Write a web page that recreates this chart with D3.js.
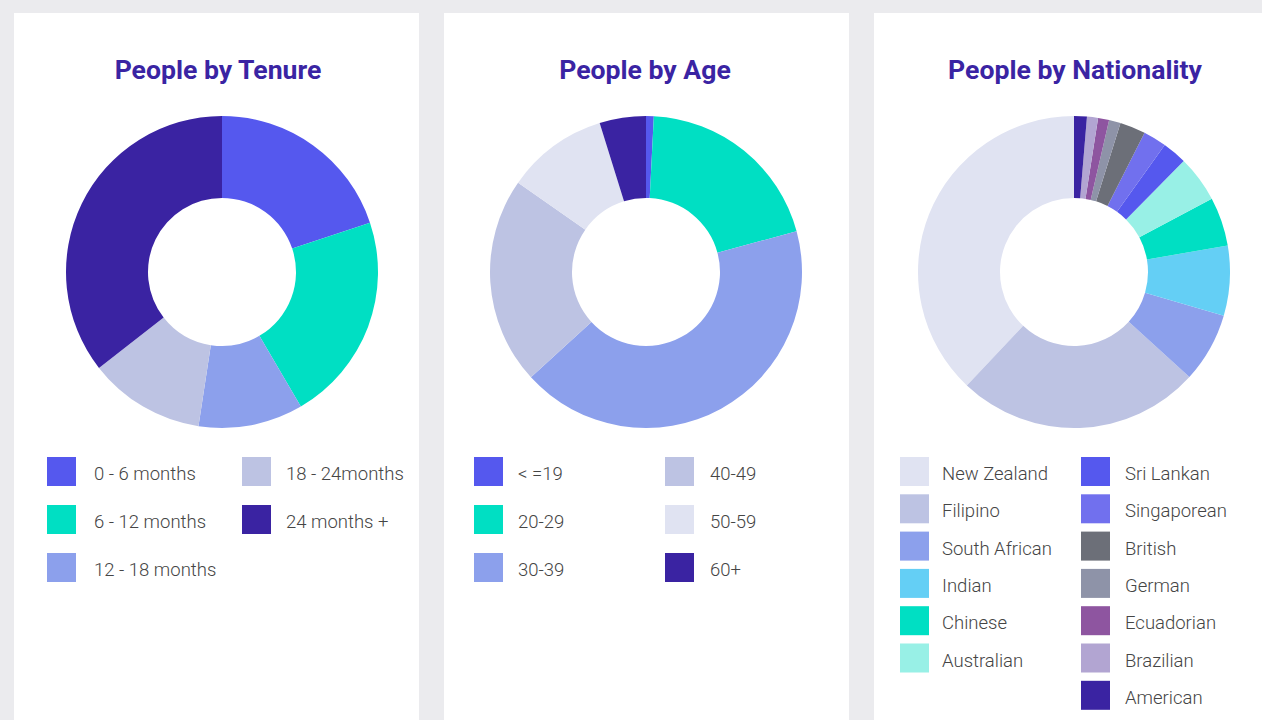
<html>
  <head>
    <title>People dashboard</title>
    <script src="https://d3js.org/d3.v7.min.js"></script>
    <style>
      body {
        margin: 0;
        background: #ebebee;
        font-family: Roboto, "Open Sans", sans-serif;
      }
      text.title {
        font-weight: 700;
        font-size: 26.6px;
        fill: #3a24a3;
        text-anchor: middle;
      }
      text.legend {
        font-weight: 300;
        font-size: 18.5px;
        fill: #454545;
      }
    </style>
  </head>
  <body>
    <svg id="board" width="1262" height="720"></svg>

    <script>
      // Tenure
      const tenureLabels = ["0 - 6 months", "6 - 12 months", "12 - 18 months", "18 - 24months", "24 months +"];
      const tenureValues = [16.5, 18, 9, 10, 29.5];

      // Age
      const ageLabels = ["< =19", "20-29", "30-39", "40-49", "50-59", "60+"];
      const ageValues = [0.8, 20, 42.4, 21.5, 10.5, 4.8];

      // Nationality
      const natLabels = ["New Zealand", "Filipino", "South African", "Indian", "Chinese", "Australian",
        "Sri Lankan", "Singaporean", "British", "German", "Ecuadorian", "Brazilian", "American"];
      const natValues = [31.5, 21, 6, 6, 4.2, 4, 2.1, 2, 2.2, 1, 0.95, 0.95, 1.1];

      // palettes
      const tenureColors = ["#5558ee", "#00dfc3", "#8ca0ec", "#bdc3e3", "#3a23a2"];
      const ageColors = ["#5558ee", "#00dfc3", "#8ca0ec", "#bdc3e3", "#e0e3f2", "#3a23a2"];
      const natColors = ["#e0e3f2", "#bdc3e3", "#8ca0ec", "#64cff5", "#00dfc3", "#98f0e6",
        "#5558ee", "#7170ee", "#6c6f78", "#8e93a8", "#8e55a0", "#b2a5d2", "#3a23a2"];

      const svg = d3.select("#board");
      const R = 156;
      const r = 74;

      const panels = [
        { x: 14, title: "People by Tenure", tx: 204, cx: 208, labels: tenureLabels, values: tenureValues,
          colors: tenureColors, dir: 1, rows: 3, colX: [33, 228], textDx: [47, 44], rowY: 444, rowH: 48 },
        { x: 444, title: "People by Age", tx: 201, cx: 202, labels: ageLabels, values: ageValues,
          colors: ageColors, dir: 1, rows: 3, colX: [30, 221], textDx: [44, 45], rowY: 444, rowH: 48 },
        { x: 874, title: "People by Nationality", tx: 201, cx: 200, labels: natLabels, values: natValues,
          colors: natColors, dir: -1, rows: 6, colX: [26, 207], textDx: [42, 44], rowY: 444, rowH: 37.3 },
      ];

      const cards = svg
        .selectAll("g.card")
        .data(panels)
        .join("g")
        .attr("class", "card")
        .attr("transform", (d) => `translate(${d.x}, 13)`);

      cards
        .append("rect")
        .attr("width", 405)
        .attr("height", 720)
        .attr("fill", "#fff");

      cards
        .append("text")
        .attr("class", "title")
        .attr("x", (d) => d.tx)
        .attr("y", 66)
        .text((d) => d.title);

      cards.each(function (p) {
        const card = d3.select(this);
        const color = d3.scaleOrdinal().domain(p.labels).range(p.colors);
        const pie = d3
          .pie()
          .sort(null)
          .value((d, i) => p.values[i])
          .startAngle(0)
          .endAngle(p.dir * 2 * Math.PI); // nationality runs counter-clockwise
        const arc = d3.arc().innerRadius(r).outerRadius(R);

        card
          .append("g")
          .attr("transform", `translate(${p.cx}, 259)`)
          .selectAll("path")
          .data(pie(p.labels))
          .join("path")
          .attr("d", arc)
          .attr("fill", (d) => color(d.data));

        // first column holds `rows` items, the rest go to column 2
        const colOf = (i) => (i < p.rows ? 0 : 1);

        const items = card
          .append("g")
          .selectAll("g.item")
          .data(p.labels)
          .join("g")
          .attr("class", "item")
          .attr("transform", (d, i) => {
            const col = colOf(i);
            const row = col === 0 ? i : i - p.rows;
            return `translate(${p.colX[col]}, ${p.rowY + row * p.rowH})`;
          });

        items
          .append("rect")
          .attr("width", 29)
          .attr("height", 29)
          .attr("fill", (d) => color(d));

        items
          .append("text")
          .attr("class", "legend")
          .attr("x", (d, i) => p.textDx[colOf(i)])
          .attr("y", 23)
          .text((d) => d);
      });
    </script>
  </body>
</html>
